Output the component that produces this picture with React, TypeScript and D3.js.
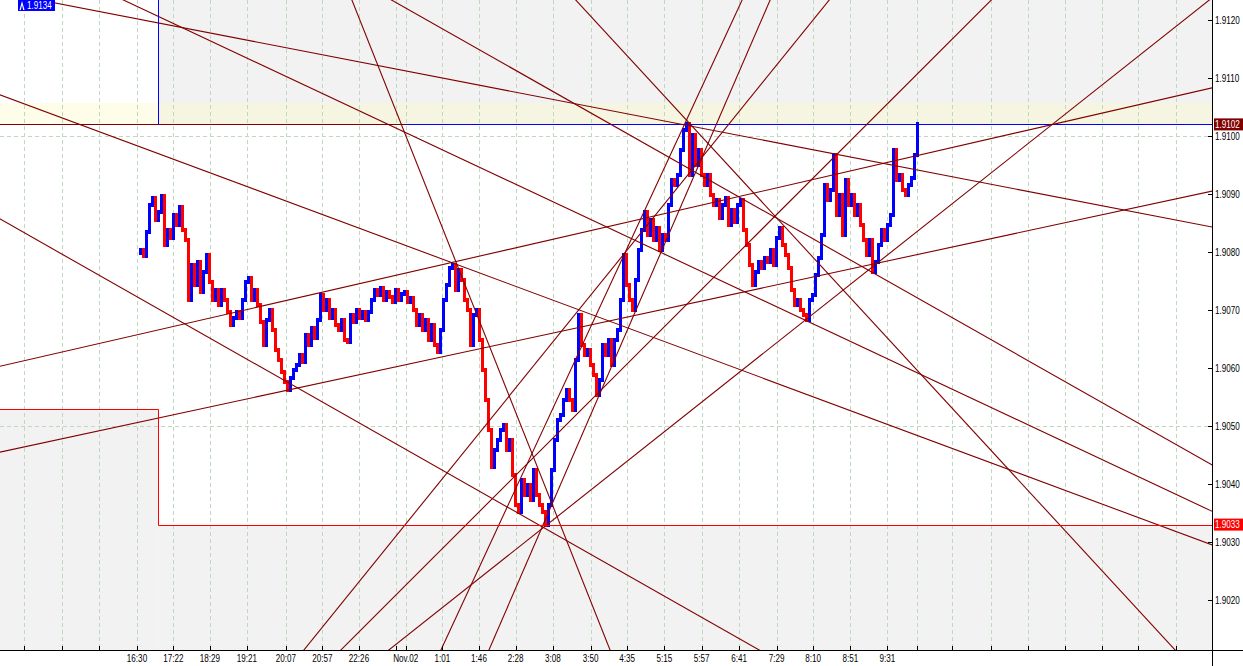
import React from 'react';
import * as d3 from 'd3';

// ---- data ----
const closes = [
  1.90798, 1.90803, 1.90793, 1.90834, 1.90881, 1.90893, 1.90855, 1.90869, 1.90897, 1.90812,
  1.90838, 1.90824, 1.90864, 1.90847, 1.90878, 1.90838, 1.90821, 1.90717, 1.90778, 1.90743,
  1.90783, 1.90731, 1.90766, 1.90795, 1.90748, 1.90717, 1.90734, 1.90709, 1.90734, 1.90717,
  1.90697, 1.90674, 1.90686, 1.90697, 1.90686, 1.90717, 1.90748, 1.90755, 1.90717, 1.90734,
  1.90709, 1.90679, 1.90640, 1.90683, 1.90700, 1.90666, 1.90631, 1.90614, 1.90593, 1.90576,
  1.90562, 1.90583, 1.90597, 1.90605, 1.90622, 1.90610, 1.90657, 1.90640, 1.90669, 1.90652,
  1.90683, 1.90726, 1.90700, 1.90717, 1.90686, 1.90700, 1.90674, 1.90666, 1.90683, 1.90648,
  1.90645, 1.90691, 1.90679, 1.90700, 1.90686, 1.90697, 1.90683, 1.90697, 1.90717, 1.90734,
  1.90726, 1.90738, 1.90717, 1.90731, 1.90722, 1.90714, 1.90734, 1.90717, 1.90728, 1.90731,
  1.90714, 1.90721, 1.90700, 1.90674, 1.90691, 1.90666, 1.90683, 1.90648, 1.90674, 1.90640,
  1.90628, 1.90666, 1.90717, 1.90743, 1.90772, 1.90778, 1.90734, 1.90769, 1.90752, 1.90717,
  1.90700, 1.90640, 1.90691, 1.90700, 1.90648, 1.90597, 1.90545, 1.90493, 1.90429, 1.90459,
  1.90476, 1.90493, 1.90502, 1.90459, 1.90476, 1.90416, 1.90364, 1.90352, 1.90407, 1.90381,
  1.90398, 1.90372, 1.90424, 1.90381, 1.90364, 1.90352, 1.90330, 1.90364, 1.90424, 1.90476,
  1.90510, 1.90519, 1.90545, 1.90562, 1.90545, 1.90528, 1.90614, 1.90691, 1.90640, 1.90622,
  1.90631, 1.90605, 1.90588, 1.90553, 1.90579, 1.90640, 1.90622, 1.90648, 1.90605, 1.90648,
  1.90666, 1.90717, 1.90795, 1.90743, 1.90717, 1.90700, 1.90752, 1.90803, 1.90838, 1.90869,
  1.90829, 1.90855, 1.90821, 1.90841, 1.90803, 1.90829, 1.90821, 1.90881, 1.90924, 1.90916,
  1.90933, 1.90976, 1.91010, 1.91020, 1.90933, 1.91002, 1.90950, 1.90976, 1.90933, 1.90916,
  1.90933, 1.90898, 1.90881, 1.90890, 1.90859, 1.90881, 1.90893, 1.90847, 1.90872, 1.90852,
  1.90881, 1.90890, 1.90838, 1.90812, 1.90778, 1.90743, 1.90766, 1.90783, 1.90772, 1.90790,
  1.90783, 1.90803, 1.90778, 1.90824, 1.90841, 1.90812, 1.90795, 1.90772, 1.90734, 1.90709,
  1.90717, 1.90700, 1.90691, 1.90683, 1.90717, 1.90726, 1.90760, 1.90790, 1.90829, 1.90916,
  1.90890, 1.90907, 1.90967, 1.90864, 1.90898, 1.90829, 1.90924, 1.90881, 1.90898, 1.90864,
  1.90881, 1.90847, 1.90821, 1.90795, 1.90821, 1.90766, 1.90783, 1.90812, 1.90838, 1.90821,
  1.90847, 1.90864, 1.90976, 1.90924, 1.90933, 1.90907, 1.90898, 1.90916, 1.90928, 1.90967,
  1.91020,
];

const timeLabels = ['16:30', '17:22', '18:29', '19:21', '20:07', '20:57', '22:26', 'Nov.02', '1:01', '1:46', '2:28',
  '3:08', '3:50', '4:35', '5:15', '5:57', '6:41', '7:29', '8:10', '8:51', '9:31'];
const timeLabelBars = [0, 12.1, 24.3, 36.6, 49.6, 61.8, 74, 89.6, 101.8, 114, 126.2,
  138.6, 151.2, 163.4, 175.8, 188.2, 200.7, 213.2, 225.4, 237.8, 250.1];
const extraGridBars = [-37.6, -25.1, -12.7, 86.4, 259.9, 271.8, 284.6, 296.9, 309.2, 321.5, 333.8, 346.2];

const priceTicks = [1.902, 1.903, 1.904, 1.905, 1.906, 1.907, 1.908, 1.909, 1.910, 1.911, 1.912];
const priceGrid = [1.905, 1.910];

// trend lines: [bar1, price1, bar2, price2]
const trendLines = [
  [182.67, 1.91019, 358.33, 1.90843],
  [-45.67, 1.91071, 358.33, 1.90295],
  [-4.33, 1.91234, 358.33, 1.90353],
  [85, 1.91234, 358.33, 1.90433],
  [-45.67, 1.90857, 207.33, 1.90114],
  [-45.67, 1.90603, 358.33, 1.91083],
  [-45.67, 1.90455, 358.33, 1.90905],
  [71.67, 1.91234, 157.67, 1.90114],
  [146.33, 1.91234, 346, 1.90114],
  [101.33, 1.90114, 201.67, 1.91234],
  [117.33, 1.90114, 211, 1.91234],
  [55.67, 1.90114, 230.67, 1.91234],
  [68, 1.90114, 284.67, 1.91234],
  [84, 1.90114, 357.33, 1.91234],
];

const dayStartBar = 7;
const highLineStartBar = 89.6;
const prevHigh = 1.9134;
const prevLow = 1.9053;
const dayHigh = 1.9102;
const dayLow = 1.9033;
const zoneTop = 1.91057;
const levelLine = 1.9102;

const W = 1243;
const H = 666;
const PR = 1212; // plot right
const PB = 650; // plot bottom

export default function App() {
  const x = d3.scaleLinear().domain([0, 260]).range([137, 917]);
  const y = d3.scaleLinear().domain([1.912, 1.902]).range([20, 600]);
  const xd = Math.round(x(dayStartBar)) + 0.5;
  const fmt = d3.format('.4f');
  const font = 'Liberation Sans, Arial, sans-serif';
  const sx = 0.78;
  const fs = 10.4;

  const bars = closes.slice(1).map((c, k) => {
    const i = k + 1;
    const p = closes[i - 1];
    const hi = Math.max(p, c);
    const lo = Math.min(p, c);
    const xc = Math.round(x(i));
    return { x: xc - 1, y1: Math.round(y(hi)) - 2, y2: Math.round(y(lo)) + 2, up: c >= p };
  });

  const lines = trendLines.map(([b1, p1, b2, p2]) => {
    const x1 = x(b1), y1 = y(p1), x2 = x(b2), y2 = y(p2);
    const dx = x2 - x1, dy = y2 - y1;
    return { x1: x1 - dx * 10, y1: y1 - dy * 10, x2: x1 + dx * 10, y2: y1 + dy * 10 };
  });

  const gridBars = [...timeLabelBars, ...extraGridBars];
  const yl = Math.round(y(levelLine)) + 0.5;
  const ylow = Math.round(y(dayLow)) + 0.5;
  const yplow = Math.round(y(prevLow)) + 0.5;

  const txt = (tx: number, ty: number, s: string, fill: string, anchor: string = 'start', key?: any) => (
    <g key={key} transform={`translate(${tx},${ty}) scale(${sx},1)`}>
      <text x={0} y={0} fontSize={fs} fill={fill} textAnchor={anchor} fontFamily={font}>{s}</text>
    </g>
  );

  return (
    <div>
      <style>{'body{margin:0;}'}</style>
      <svg width={W} height={H} style={{ display: 'block' }}>
        <defs>
          <clipPath id="plot">
            <rect x={0} y={0} width={PR} height={PB} />
          </clipPath>
        </defs>
        <rect x={0} y={0} width={W} height={H} fill="#ffffff" />
        <g clipPath="url(#plot)">
          {/* out-of-range shading */}
          <rect x={0} y={yplow} width={xd} height={PB - yplow} fill="#f2f2f2" />
          <rect x={xd} y={0} width={PR - xd} height={yl} fill="#f2f2f2" />
          <rect x={xd} y={ylow} width={PR - xd} height={PB - ylow} fill="#f2f2f2" />
          {/* zone */}
          <rect x={0} y={Math.round(y(zoneTop))} width={PR} height={yl - Math.round(y(zoneTop))} fill="#fafac8" fillOpacity={0.4} />
          {/* grid */}
          {gridBars.map((b, i) => (
            <line key={'gv' + i} x1={Math.round(x(b)) + 0.5} x2={Math.round(x(b)) + 0.5} y1={0} y2={PB} stroke="#c0d8c0" strokeDasharray="4,3" />
          ))}
          {priceGrid.map((p, i) => (
            <line key={'gh' + i} x1={0} x2={PR} y1={Math.round(y(p)) + 0.5} y2={Math.round(y(p)) + 0.5} stroke="#c0d8c0" strokeDasharray="4,3" />
          ))}
          {/* price bars */}
          {bars.map((b, i) => (
            <rect key={'b' + i} x={b.x} y={b.y1} width={3} height={b.y2 - b.y1} fill={b.up ? '#0000ff' : '#ff0000'} shapeRendering="crispEdges" />
          ))}
          {/* high line of the day and level line */}
          <line x1={0} x2={PR} y1={yl} y2={yl} stroke="#800000" />
          <line x1={Math.round(x(highLineStartBar))} x2={PR} y1={yl} y2={yl} stroke="#0000ff" />
          {/* trend lines */}
          {lines.map((l, i) => (
            <line key={'t' + i} x1={l.x1} y1={l.y1} x2={l.x2} y2={l.y2} stroke="#800000" strokeWidth={1.1} />
          ))}
          {/* day box */}
          <path d={`M${xd},0 V${yl}`} fill="none" stroke="#0000ff" />
          <path d={`M0,${yplow} H${xd} V${ylow} H${PR}`} fill="none" stroke="#ff0000" />
        </g>
        {/* top-left label */}
        <rect x={18} y={0} width={37} height={11} fill="#0000ff" />
        <path d="M19.5,10 L22,1 L24.5,10 L23.2,10 L22,5 L20.8,10 Z" fill="#ffffff" />
        {txt(27, 9.3, prevHigh.toFixed(4), '#ffffff')}
        {/* axes */}
        <line x1={0} x2={W} y1={PB + 0.5} y2={PB + 0.5} stroke="#000" />
        <line x1={PR + 0.5} x2={PR + 0.5} y1={0} y2={H} stroke="#000" />
        {gridBars.map((b, i) => (
          <line key={'bt' + i} x1={Math.round(x(b)) + 0.5} x2={Math.round(x(b)) + 0.5} y1={PB - 4} y2={PB} stroke="#000" />
        ))}
        {timeLabels.map((s, i) => txt(x(timeLabelBars[i]), 662, s, '#000', 'middle', 'tl' + i))}
        {priceTicks.map((p, i) => (
          <g key={'pt' + i}>
            <line x1={PR - 4} x2={PR + 1} y1={Math.round(y(p)) + 0.5} y2={Math.round(y(p)) + 0.5} stroke="#000" />
            {txt(PR + 3, y(p) + 3.7, fmt(p), '#000')}
          </g>
        ))}
        {/* price labels */}
        <rect x={PR + 2} y={y(levelLine) - 6} width={29} height={12} fill="#800000" />
        {txt(PR + 3, y(levelLine) + 3.7, fmt(levelLine), '#ffffff')}
        <rect x={PR + 2} y={y(dayLow) - 6} width={29} height={12} fill="#ff0000" />
        {txt(PR + 3, y(dayLow) + 3.7, fmt(dayLow), '#ffffff')}
      </svg>
    </div>
  );
}
